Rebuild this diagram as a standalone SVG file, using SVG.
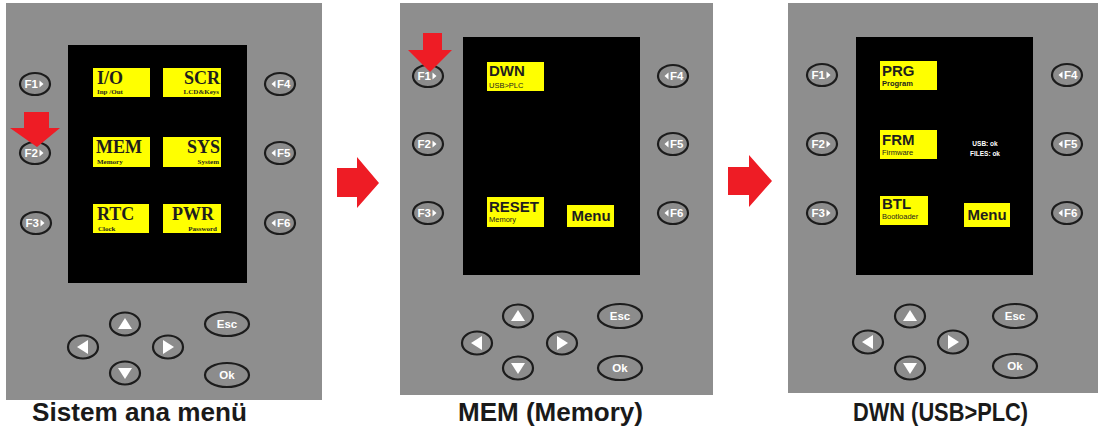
<svg xmlns="http://www.w3.org/2000/svg" width="1101" height="435" viewBox="0 0 1101 435">
<style>
.panel{fill:#8e8e8e}
.screen{fill:#000}
.ybox{fill:#ffff00}
.btn{fill:#8c8c8c;stroke:#1c1c1c;stroke-width:2.2}
.bl{fill:#fff;font-family:"Liberation Sans",Arial,sans-serif;font-weight:bold;font-size:11.5px}
.tri{fill:#fff}
.red{fill:#ee1c25}
.sb{fill:#1e1e1e;font-family:"Liberation Serif","Times New Roman",serif;font-weight:bold;font-size:18px}
.ss{fill:#1e1e1e;font-family:"Liberation Serif","Times New Roman",serif;font-weight:bold;font-size:7px}
.nb{fill:#1e1e1e;font-family:"Liberation Sans",Arial,sans-serif;font-weight:bold;font-size:15px}
.ns{fill:#1e1e1e;font-family:"Liberation Sans",Arial,sans-serif;font-size:7.5px}
.wt{fill:#fff;font-family:"Liberation Sans",Arial,sans-serif;font-weight:bold;font-size:6.5px}
.cap{fill:#1a1a1a;font-family:"Liberation Sans",Arial,sans-serif;font-weight:bold;font-size:26px}
</style>
<defs>
<path id="tu" class="tri" d="M-7,5 L7,5 L0,-6 Z"/>
<path id="td" class="tri" d="M-7,-5 L7,-5 L0,6 Z"/>
<path id="tl" class="tri" d="M5,-7 L5,7 L-6,0 Z"/>
<path id="tr" class="tri" d="M-5,-7 L-5,7 L6,0 Z"/>
<path id="fr" class="tri" d="M0,-3.5 L4,0 L0,3.5 Z"/>
<path id="fl" class="tri" d="M0,-3.5 L-4,0 L0,3.5 Z"/>
<ellipse id="fb" class="btn" cx="0" cy="0" rx="15" ry="11"/>
<ellipse id="nb" class="btn" cx="0" cy="0" rx="15" ry="11.5"/>
<ellipse id="eb" class="btn" cx="0" cy="0" rx="22" ry="12"/>
</defs>

<!-- Panel 1 -->
<g id="panel1">
<rect class="panel" x="6" y="3" width="316" height="397"/>
<rect class="screen" x="68" y="45" width="179" height="238"/>
<g id="p1-io"><rect class="ybox" x="93" y="68" width="57" height="29"/><text class="sb" x="97" y="84">I/O</text><text class="ss" x="97" y="94">Inp /Out</text></g>
<g id="p1-scr"><rect class="ybox" x="163" y="68" width="58" height="29"/><text class="sb" x="220" y="84" text-anchor="end">SCR</text><text class="ss" x="219" y="94" text-anchor="end">LCD&amp;Keys</text></g>
<g id="p1-mem"><rect class="ybox" x="93" y="137" width="57" height="30"/><text class="sb" x="96" y="153">MEM</text><text class="ss" x="97" y="163.5">Memory</text></g>
<g id="p1-sys"><rect class="ybox" x="163" y="137" width="58" height="30"/><text class="sb" x="220" y="153" text-anchor="end">SYS</text><text class="ss" x="219" y="163.5" text-anchor="end">System</text></g>
<g id="p1-rtc"><rect class="ybox" x="93" y="204" width="56" height="29"/><text class="sb" x="97" y="220">RTC</text><text class="ss" x="98" y="230.5">Clock</text></g>
<g id="p1-pwr"><rect class="ybox" x="163" y="204" width="58" height="29"/><text class="sb" x="214" y="220" text-anchor="end">PWR</text><text class="ss" x="217" y="230.5" text-anchor="end">Password</text></g>
<g id="p1-f1"><use href="#fb" x="35" y="84"/><text class="bl" x="38" y="88" text-anchor="end">F1</text><use href="#fr" x="39.5" y="84"/></g>
<g id="p1-f2"><use href="#fb" x="35" y="153"/><text class="bl" x="38" y="157" text-anchor="end">F2</text><use href="#fr" x="39.5" y="153"/></g>
<g id="p1-f3"><use href="#fb" x="36" y="223"/><text class="bl" x="39" y="227" text-anchor="end">F3</text><use href="#fr" x="40.5" y="223"/></g>
<g id="p1-f4"><use href="#fb" x="280" y="84"/><use href="#fl" x="275.5" y="84"/><text class="bl" x="277" y="88">F4</text></g>
<g id="p1-f5"><use href="#fb" x="280" y="153"/><use href="#fl" x="275.5" y="153"/><text class="bl" x="277" y="157">F5</text></g>
<g id="p1-f6"><use href="#fb" x="280" y="223"/><use href="#fl" x="275.5" y="223"/><text class="bl" x="277" y="227">F6</text></g>
<g id="p1-up"><use href="#nb" x="125" y="324"/><use href="#tu" x="125" y="324"/></g>
<g id="p1-left"><use href="#nb" x="83" y="347"/><use href="#tl" x="83" y="347"/></g>
<g id="p1-right"><use href="#nb" x="168" y="347"/><use href="#tr" x="168" y="347"/></g>
<g id="p1-down"><use href="#nb" x="125" y="373"/><use href="#td" x="125" y="373"/></g>
<g id="p1-esc"><use href="#eb" x="227" y="324"/><text class="bl" x="227" y="328" text-anchor="middle" font-size="12">Esc</text></g>
<g id="p1-ok"><use href="#eb" x="227" y="375"/><text class="bl" x="227" y="379" text-anchor="middle" font-size="12">Ok</text></g>
<path class="red" d="M24,112 L49,112 L49,128 L60,128 L37,147 L10,128 L24,128 Z"/>
<text class="cap" x="139.5" y="421" text-anchor="middle" textLength="215" lengthAdjust="spacingAndGlyphs">Sistem ana menü</text>
</g>

<!-- Panel 2 -->
<g id="panel2">
<rect class="panel" x="400" y="3" width="313" height="392"/>
<rect class="screen" x="463" y="37" width="177" height="238"/>
<g id="p2-dwn"><rect class="ybox" x="487" y="62" width="57" height="29"/><text class="nb" x="489" y="76" font-size="16">DWN</text><text class="ns" x="489" y="88" font-size="6.5">USB&gt;PLC</text></g>
<g id="p2-reset"><rect class="ybox" x="487" y="197" width="57" height="30"/><text class="nb" x="489" y="212">RESET</text><text class="ns" x="489" y="222">Memory</text></g>
<g id="p2-menu"><rect class="ybox" x="567" y="205" width="47" height="22"/><text class="nb" x="591" y="221" text-anchor="middle">Menu</text></g>
<g id="p2-f1"><use href="#fb" x="428" y="76"/><text class="bl" x="431" y="80" text-anchor="end">F1</text><use href="#fr" x="432.5" y="76"/></g>
<g id="p2-f2"><use href="#fb" x="428" y="144"/><text class="bl" x="431" y="148" text-anchor="end">F2</text><use href="#fr" x="432.5" y="144"/></g>
<g id="p2-f3"><use href="#fb" x="428" y="213"/><text class="bl" x="431" y="217" text-anchor="end">F3</text><use href="#fr" x="432.5" y="213"/></g>
<g id="p2-f4"><use href="#fb" x="673" y="76"/><use href="#fl" x="668.5" y="76"/><text class="bl" x="670" y="80">F4</text></g>
<g id="p2-f5"><use href="#fb" x="673" y="144"/><use href="#fl" x="668.5" y="144"/><text class="bl" x="670" y="148">F5</text></g>
<g id="p2-f6"><use href="#fb" x="673" y="213"/><use href="#fl" x="668.5" y="213"/><text class="bl" x="670" y="217">F6</text></g>
<g id="p2-up"><use href="#nb" x="518" y="316"/><use href="#tu" x="518" y="316"/></g>
<g id="p2-left"><use href="#nb" x="477" y="343"/><use href="#tl" x="477" y="343"/></g>
<g id="p2-right"><use href="#nb" x="562" y="343"/><use href="#tr" x="562" y="343"/></g>
<g id="p2-down"><use href="#nb" x="518" y="368"/><use href="#td" x="518" y="368"/></g>
<g id="p2-esc"><use href="#eb" x="620" y="316"/><text class="bl" x="620" y="320" text-anchor="middle" font-size="12">Esc</text></g>
<g id="p2-ok"><use href="#eb" x="620" y="368"/><text class="bl" x="620" y="372" text-anchor="middle" font-size="12">Ok</text></g>
<path class="red" d="M423,33 L442,33 L442,50 L452,50 L430,72 L408,50 L423,50 Z"/>
<text class="cap" x="550.5" y="421" text-anchor="middle" textLength="185" lengthAdjust="spacingAndGlyphs">MEM (Memory)</text>
</g>

<!-- Panel 3 -->
<g id="panel3">
<rect class="panel" x="788" y="3" width="310" height="390"/>
<rect class="screen" x="856" y="37" width="177" height="238"/>
<g id="p3-prg"><rect class="ybox" x="880" y="61" width="57" height="29"/><text class="nb" x="882" y="76" font-size="16">PRG</text><text class="ns" x="882" y="86" font-weight="bold">Program</text></g>
<g id="p3-frm"><rect class="ybox" x="880" y="130" width="57" height="29"/><text class="nb" x="882" y="145" font-size="16">FRM</text><text class="ns" x="882" y="155">Firmware</text></g>
<g id="p3-btl"><rect class="ybox" x="880" y="196" width="48" height="29"/><text class="nb" x="882" y="209" font-size="14">BTL</text><text class="ns" x="882" y="218.5" font-size="6.5">Bootloader</text></g>
<g id="p3-menu"><rect class="ybox" x="964" y="203" width="46" height="24"/><text class="nb" x="987" y="220" text-anchor="middle">Menu</text></g>
<g id="p3-status"><text class="wt" x="985" y="146" text-anchor="middle">USB: ok</text><text class="wt" x="985" y="156" text-anchor="middle">FILES: ok</text></g>
<g id="p3-f1"><use href="#fb" x="822" y="75"/><text class="bl" x="825" y="79" text-anchor="end">F1</text><use href="#fr" x="826.5" y="75"/></g>
<g id="p3-f2"><use href="#fb" x="822" y="144"/><text class="bl" x="825" y="148" text-anchor="end">F2</text><use href="#fr" x="826.5" y="144"/></g>
<g id="p3-f3"><use href="#fb" x="822" y="213"/><text class="bl" x="825" y="217" text-anchor="end">F3</text><use href="#fr" x="826.5" y="213"/></g>
<g id="p3-f4"><use href="#fb" x="1067" y="75"/><use href="#fl" x="1062.5" y="75"/><text class="bl" x="1064" y="79">F4</text></g>
<g id="p3-f5"><use href="#fb" x="1067" y="144"/><use href="#fl" x="1062.5" y="144"/><text class="bl" x="1064" y="148">F5</text></g>
<g id="p3-f6"><use href="#fb" x="1067" y="213"/><use href="#fl" x="1062.5" y="213"/><text class="bl" x="1064" y="217">F6</text></g>
<g id="p3-up"><use href="#nb" x="910" y="316"/><use href="#tu" x="910" y="316"/></g>
<g id="p3-left"><use href="#nb" x="868" y="342"/><use href="#tl" x="868" y="342"/></g>
<g id="p3-right"><use href="#nb" x="953" y="342"/><use href="#tr" x="953" y="342"/></g>
<g id="p3-down"><use href="#nb" x="910" y="368"/><use href="#td" x="910" y="368"/></g>
<g id="p3-esc"><use href="#eb" x="1015" y="316"/><text class="bl" x="1015" y="320" text-anchor="middle" font-size="12">Esc</text></g>
<g id="p3-ok"><use href="#eb" x="1015" y="366"/><text class="bl" x="1015" y="370" text-anchor="middle" font-size="12">Ok</text></g>
<text class="cap" x="940.5" y="421" text-anchor="middle" textLength="175" lengthAdjust="spacingAndGlyphs">DWN (USB&gt;PLC)</text>
</g>

<!-- Connectors -->
<g id="connectors">
<path class="red" d="M337,168 L357,168 L357,157 L379,183 L357,208 L357,197 L337,197 Z"/>
<path class="red" d="M728,167 L749,167 L749,155 L772,181 L749,207 L749,195 L728,195 Z"/>
</g>
</svg>
